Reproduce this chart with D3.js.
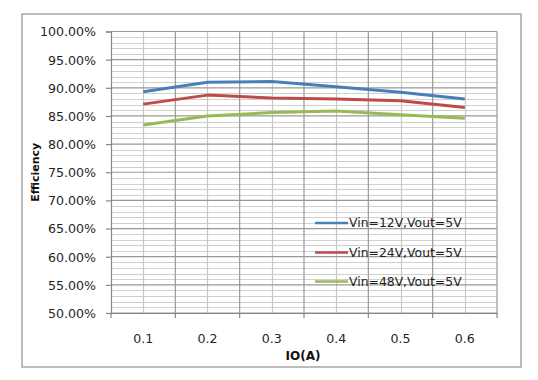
<!DOCTYPE html>
<html><head><meta charset="utf-8">
<script src="https://cdn.jsdelivr.net/npm/d3@7/dist/d3.min.js"></script>
<style>
html,body{margin:0;padding:0;background:#fff;}
svg{display:block;font-family:"DejaVu Sans",sans-serif;}
</style></head>
<body>
<svg id="c" width="538" height="380"></svg>
<script>
const categories = ["0.1","0.2","0.3","0.4","0.5","0.6"];
const seriesNames = ["Vin=12V,Vout=5V","Vin=24V,Vout=5V","Vin=48V,Vout=5V"];
const vin12 = [0.893,0.910,0.911,0.902,0.892,0.880];
const vin24 = [0.871,0.887,0.882,0.880,0.877,0.865];
const vin48 = [0.834,0.850,0.856,0.859,0.852,0.846];
const seriesColors = ["#4a7ebb","#be4b48","#98b954"];
const yTicks = [0.5,0.55,0.6,0.65,0.7,0.75,0.8,0.85,0.9,0.95,1.0];

const svg = d3.select("#c");
const L=111, R=497, T=31.5, B=313;

svg.append("rect").attr("x",22).attr("y",14).attr("width",499).attr("height",353)
  .attr("fill","#fff").attr("stroke","#a6a6a6").attr("stroke-width",1.5);

const x = d3.scaleBand().domain(categories).range([L,R]).padding(0);
const y = d3.scaleLinear().domain([0.5,1.0]).range([B,T]);
const bw = x.bandwidth();

// minor horizontal gridlines (1%)
const minor = d3.range(50,101).map(v=>v/100).filter(v=>Math.round(v*100)%5!==0);
svg.append("g").selectAll("line").data(minor).join("line")
  .attr("x1",L).attr("x2",R).attr("y1",d=>Math.round(y(d))+0.5).attr("y2",d=>Math.round(y(d))+0.5)
  .attr("stroke","#d0d0d0").attr("stroke-width",1);
// minor vertical at centers
svg.append("g").selectAll("line").data(categories).join("line")
  .attr("x1",d=>Math.round(x(d)+bw/2)+0.5).attr("x2",d=>Math.round(x(d)+bw/2)+0.5)
  .attr("y1",T).attr("y2",B).attr("stroke","#c8c8c8").attr("stroke-width",1.2);
// major horizontal
svg.append("g").selectAll("line").data(yTicks).join("line")
  .attr("x1",L).attr("x2",R).attr("y1",d=>y(d)).attr("y2",d=>y(d))
  .attr("stroke","#999").attr("stroke-width",1.2);
// major vertical at boundaries
const bounds = categories.map(c=>x(c)).concat([x(categories[categories.length-1])+bw]);
svg.append("g").selectAll("line").data(bounds.slice(1)).join("line")
  .attr("x1",d=>d).attr("x2",d=>d).attr("y1",T).attr("y2",B)
  .attr("stroke","#999").attr("stroke-width",1.2);

// y axis
const yAxis = svg.append("g").attr("transform",`translate(${L},0)`)
  .call(d3.axisLeft(y).tickValues(yTicks).tickFormat(d3.format(".2%")).tickSize(5).tickPadding(10));
yAxis.select(".domain").attr("stroke","#868686").attr("stroke-width",1.2);
yAxis.selectAll(".tick line").attr("stroke","#868686").attr("stroke-width",1.2);
yAxis.selectAll("text").attr("font-size","12.6px").attr("fill","#1f1f1f")
  .attr("font-family","DejaVu Sans").attr("dy","0.35em");

// x axis
const xAxis = svg.append("g").attr("transform",`translate(0,${B})`)
  .call(d3.axisBottom(x).tickSize(0).tickPadding(21));
xAxis.select(".domain").attr("stroke","#868686").attr("stroke-width",1.2);
xAxis.selectAll("text").attr("font-size","12.6px").attr("fill","#1f1f1f").attr("font-family","DejaVu Sans");
xAxis.selectAll("line.bt").data(bounds).join("line").attr("class","bt")
  .attr("x1",d=>d).attr("x2",d=>d).attr("y1",0).attr("y2",5)
  .attr("stroke","#868686").attr("stroke-width",1.2);

// lines
const allSeries = [vin12,vin24,vin48];
const line = d3.line().x((d,i)=>x(categories[i])+bw/2).y(d=>y(d));
allSeries.forEach((s,i)=>{
  svg.append("path").datum(s).attr("d",line).attr("fill","none")
    .attr("stroke",seriesColors[i]).attr("stroke-width",3).attr("stroke-linejoin","round");
});

// legend
const legY = [223,252.5,281.5];
seriesNames.forEach((n,i)=>{
  svg.append("line").attr("x1",315).attr("x2",348).attr("y1",legY[i]).attr("y2",legY[i])
    .attr("stroke",seriesColors[i]).attr("stroke-width",2.5);
  svg.append("text").attr("x",349).attr("y",legY[i]).attr("dy","0.36em")
    .attr("font-size","12.4px").attr("fill","#1f1f1f").text(n);
});

// axis titles
svg.append("text").attr("x",303).attr("y",356).attr("dy","0.35em").attr("text-anchor","middle")
  .attr("font-weight","bold").attr("font-size","12px").attr("fill","#111").text("IO(A)");
svg.append("text").attr("transform",`translate(35,${(T+B)/2}) rotate(-90)`).attr("dy","0.35em")
  .attr("text-anchor","middle").attr("font-weight","bold").attr("font-size","11px").attr("fill","#111").text("Efficiency");
</script>
</body></html>
